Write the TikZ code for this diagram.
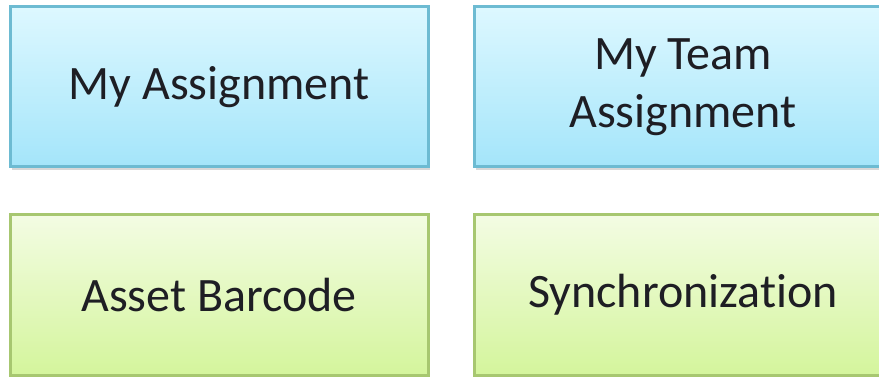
\documentclass[tikz,border=0pt]{standalone}
\usepackage{fontspec}
\setmainfont{Carlito}[Ligatures=NoCommon]
\usetikzlibrary{shadows}
\definecolor{MAbluetop}{HTML}{DDF8FF}
\definecolor{MAbluebot}{HTML}{A4E5FA}
\definecolor{MAblueline}{HTML}{6DBBD2}
\definecolor{MAgreentop}{HTML}{F3FCE3}
\definecolor{MAgreenbot}{HTML}{D4F59C}
\definecolor{MAgreenline}{HTML}{A7C770}
\definecolor{MAtext}{HTML}{1E1E24}
\tikzset{MAbox/.style={draw,line width=3pt,minimum width=418pt,minimum height=160pt,inner sep=0pt,
           align=center,text=MAtext,font=\fontsize{48}{58}\selectfont,
           drop shadow={opacity=0.3,shadow xshift=2pt,shadow yshift=-3pt}},
         MAblue/.style={MAbox,draw=MAblueline,top color=MAbluetop,bottom color=MAbluebot},
         MAgreen/.style={MAbox,draw=MAgreenline,top color=MAgreentop,bottom color=MAgreenbot}}

\begin{document}
\begin{tikzpicture}
    \useasboundingbox[fill=white] (0,0) rectangle (879pt,-377pt);
    \node[MAblue] (assign) at (219pt,-87pt) {My Assignment};
    \node[MAblue] (team) at (683pt,-87pt) {My Team\\Assignment};
    \node[MAgreen] (barcode) at (219pt,-295pt) {Asset Barcode};
    \node[MAgreen] (sync) at (683pt,-295pt) {Synchronization};
  \end{tikzpicture}
\end{document}
